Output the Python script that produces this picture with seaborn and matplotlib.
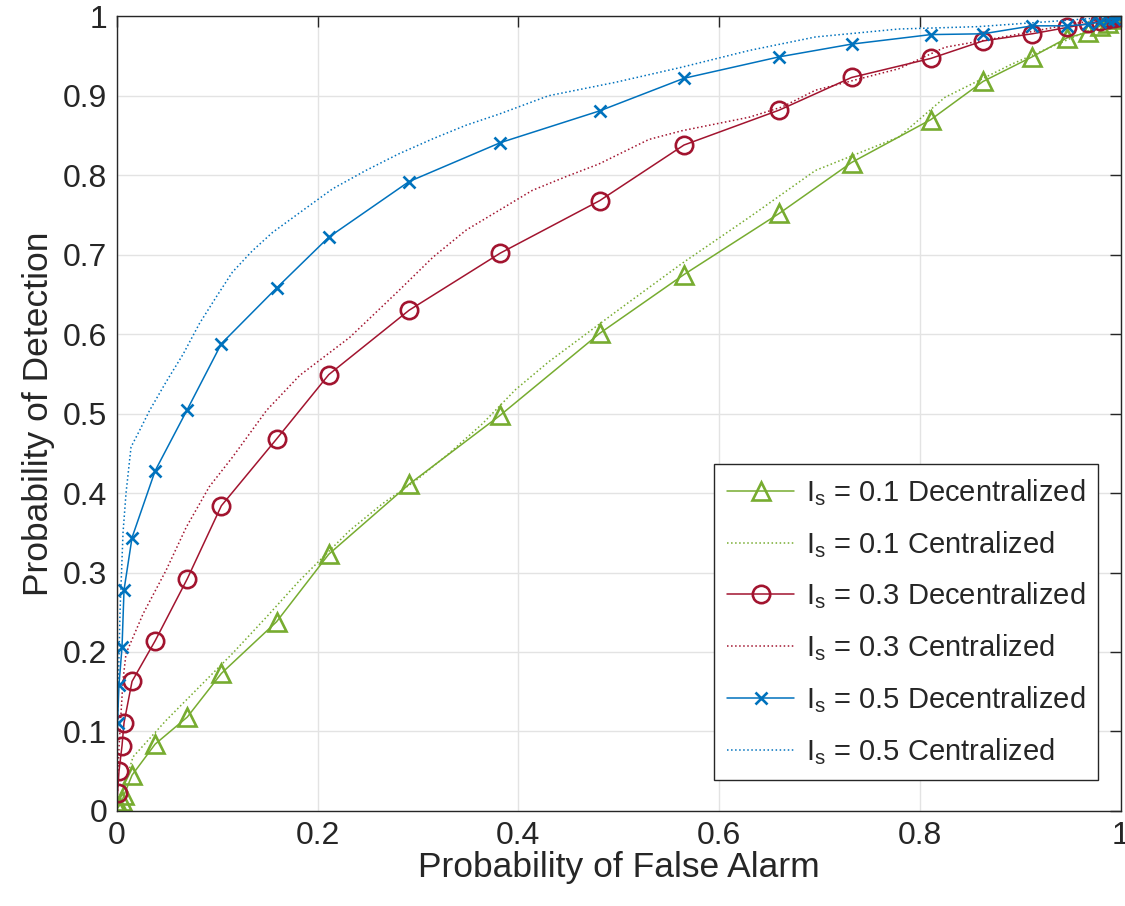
import numpy as np
import pandas as pd
import matplotlib
matplotlib.use('Agg')
import matplotlib.pyplot as plt
from matplotlib.ticker import FuncFormatter
import seaborn as sns

# probability of false alarm at the marker positions (shared by the decentralized curves)
pfa = [0.0005, 0.002, 0.005, 0.007, 0.015, 0.038, 0.070, 0.104, 0.159, 0.211,
       0.291, 0.382, 0.481, 0.565, 0.660, 0.732, 0.811, 0.863, 0.912, 0.947,
       0.968, 0.980, 0.988, 0.994, 0.998, 1.0]

pd_dec_01 = [0.003, 0.006, 0.012, 0.020, 0.045, 0.084, 0.118, 0.173, 0.238, 0.323,
             0.411, 0.498, 0.601, 0.675, 0.752, 0.816, 0.870, 0.918, 0.949, 0.973,
             0.980, 0.988, 0.992, 0.996, 0.999, 1.0]
pd_dec_03 = [0.022, 0.050, 0.082, 0.111, 0.163, 0.214, 0.292, 0.384, 0.468, 0.549,
             0.630, 0.702, 0.768, 0.838, 0.882, 0.923, 0.947, 0.969, 0.978, 0.986,
             0.991, 0.994, 0.996, 0.998, 0.999, 1.0]
pd_dec_05 = [0.111, 0.159, 0.206, 0.278, 0.344, 0.428, 0.505, 0.588, 0.658, 0.722,
             0.792, 0.841, 0.881, 0.922, 0.949, 0.965, 0.977, 0.978, 0.988, 0.988,
             0.990, 0.993, 0.995, 0.997, 0.999, 1.0]

# centralized curves (dotted)
pfa_cen_01 = [0.0, 0.008, 0.016, 0.049, 0.082, 0.115, 0.149, 0.182, 0.232, 0.265,
              0.298, 0.331, 0.364, 0.397, 0.43, 0.497, 0.563, 0.63, 0.696, 0.779,
              0.825, 0.892, 0.95, 1.0]
pd_cen_01 = [0.0, 0.035, 0.068, 0.114, 0.156, 0.198, 0.244, 0.290, 0.353, 0.387,
             0.416, 0.450, 0.487, 0.530, 0.565, 0.628, 0.689, 0.747, 0.806, 0.848,
             0.898, 0.940, 0.972, 1.0]

pfa_cen_03 = [0.0005, 0.002, 0.006, 0.009, 0.026, 0.049, 0.069, 0.092, 0.115, 0.149,
              0.182, 0.232, 0.281, 0.315, 0.348, 0.381, 0.414, 0.447, 0.48, 0.53,
              0.563, 0.63, 0.663, 0.696, 0.779, 0.825, 0.892, 0.95, 1.0]
pd_cen_03 = [0.02, 0.08, 0.165, 0.198, 0.248, 0.303, 0.357, 0.408, 0.445, 0.504,
             0.548, 0.596, 0.655, 0.697, 0.731, 0.756, 0.781, 0.798, 0.814, 0.845,
             0.856, 0.873, 0.886, 0.907, 0.934, 0.961, 0.976, 0.99, 1.0]

pfa_cen_05 = [0.0005, 0.001, 0.003, 0.006, 0.009, 0.014, 0.0226, 0.0325, 0.049, 0.066,
              0.082, 0.099, 0.115, 0.135, 0.155, 0.192, 0.215, 0.248, 0.281, 0.315,
              0.348, 0.381, 0.43, 0.497, 0.563, 0.63, 0.696, 0.779, 0.858, 0.925, 1.0]
pd_cen_05 = [0.10, 0.14, 0.25, 0.35, 0.40, 0.458, 0.479, 0.504, 0.54, 0.575,
             0.613, 0.647, 0.678, 0.705, 0.728, 0.762, 0.783, 0.806, 0.827, 0.846,
             0.863, 0.877, 0.90, 0.917, 0.936, 0.957, 0.974, 0.984, 0.987, 0.993, 1.0]

green = '#77AC30'
red = '#A2142F'
blue = '#0072BD'

sns.set_style('whitegrid')
plt.rcParams['font.family'] = ['Liberation Sans', 'DejaVu Sans']
plt.rcParams['mathtext.default'] = 'regular'

fig, ax = plt.subplots(figsize=(11.25, 9.06), dpi=100)
fig.subplots_adjust(left=0.104, right=0.996, top=0.982, bottom=0.105)

sns.lineplot(ax=ax, x=pfa, y=pd_dec_01, color=green, lw=1.1, marker='^', markersize=12.5,
             markerfacecolor='none', markeredgecolor=green, markeredgewidth=1.9,
             estimator=None, sort=False, label=r'I$_s$ = 0.1 Decentralized')
sns.lineplot(ax=ax, x=pfa_cen_01, y=pd_cen_01, color=green, lw=1.1, linestyle=':',
             estimator=None, sort=False, label=r'I$_s$ = 0.1 Centralized')
sns.lineplot(ax=ax, x=pfa, y=pd_dec_03, color=red, lw=1.1, marker='o', markersize=12.5,
             markerfacecolor='none', markeredgecolor=red, markeredgewidth=1.9,
             estimator=None, sort=False, label=r'I$_s$ = 0.3 Decentralized')
sns.lineplot(ax=ax, x=pfa_cen_03, y=pd_cen_03, color=red, lw=1.1, linestyle=':',
             estimator=None, sort=False, label=r'I$_s$ = 0.3 Centralized')
sns.lineplot(ax=ax, x=pfa, y=pd_dec_05, color=blue, lw=1.1, marker='x', markersize=8.5,
             markeredgecolor=blue, markeredgewidth=1.9,
             estimator=None, sort=False, label=r'I$_s$ = 0.5 Decentralized')
sns.lineplot(ax=ax, x=pfa_cen_05, y=pd_cen_05, color=blue, lw=1.1, linestyle=':',
             estimator=None, sort=False, label=r'I$_s$ = 0.5 Centralized')

ax.set_xlim(0, 1)
ax.set_ylim(0, 1)
ax.set_xticks(np.arange(0, 1.01, 0.2))
ax.set_yticks(np.arange(0, 1.01, 0.1))
fmt = FuncFormatter(lambda v, p: ('%.1f' % v).rstrip('0').rstrip('.') if v else '0')
ax.xaxis.set_major_formatter(fmt)
ax.yaxis.set_major_formatter(fmt)
ax.tick_params(direction='in', top=True, right=True, length=8, width=1,
               labelsize=23, colors='#262626', pad=7)
ax.grid(True, color='#e3e3e3', linewidth=1)
for s in ax.spines.values():
    s.set_color('#262626')
    s.set_linewidth(1)

ax.set_xlabel('Probability of False Alarm', fontsize=25.5, color='#262626', labelpad=0)
ax.set_ylabel('Probability of Detection', fontsize=25.5, color='#262626', labelpad=6)

leg = ax.legend(loc='lower right', bbox_to_anchor=(0.978, 0.039), borderaxespad=0,
                fontsize=21, frameon=True, fancybox=False, framealpha=1,
                edgecolor='#262626', handlelength=2.3, labelspacing=0.72,
                borderpad=0.45, handletextpad=0.4)
leg.get_frame().set_linewidth(1)

fig.savefig('out.png', dpi=100)
